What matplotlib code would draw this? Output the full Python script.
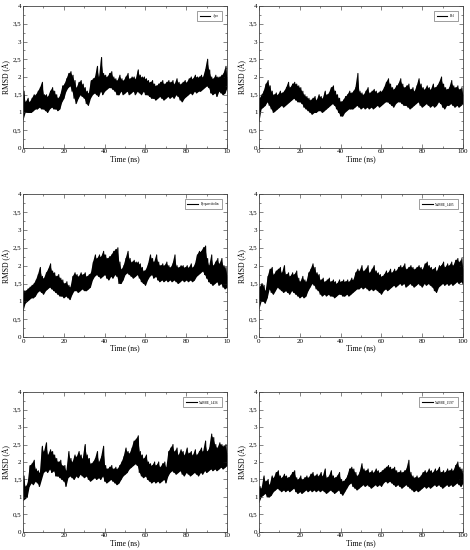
import numpy as np
import matplotlib
matplotlib.use("Agg")
import matplotlib.pyplot as plt

plt.rcParams['font.family'] = ['Liberation Serif', 'DejaVu Serif']

# RMSD traces: lower and upper edge of the noisy band, one pair per ns
time_ns = list(range(0, 101))

names = ["Apo", "Bcl", "Pyrparvifolin", "NuBBE_1405", "NuBBE_1436", "NuBBE_1597"]

apo_lo = [0.8, 1.0, 1.0, 1.0, 1.0, 1.05, 1.1, 1.1, 1.15, 1.1, 1.1, 1.05, 1.0, 1.1, 1.15, 1.1, 1.1, 1.05, 1.1, 1.3,
          1.4, 1.6, 1.7, 1.75, 1.6, 1.4, 1.25, 1.4, 1.5, 1.45, 1.4, 1.25, 1.2, 1.4, 1.5, 1.55, 1.5, 1.45, 1.6, 1.5,
          1.6, 1.65, 1.7, 1.7, 1.65, 1.6, 1.5, 1.5, 1.6, 1.5, 1.55, 1.6, 1.5, 1.55, 1.6, 1.5, 1.6, 1.55, 1.5, 1.6,
          1.5, 1.5, 1.45, 1.4, 1.4, 1.35, 1.4, 1.45, 1.4, 1.35, 1.4, 1.45, 1.4, 1.45, 1.4, 1.5, 1.45, 1.35, 1.3, 1.4,
          1.45, 1.5, 1.55, 1.5, 1.6, 1.55, 1.6, 1.6, 1.65, 1.7, 1.75, 1.7, 1.55, 1.5, 1.55, 1.45, 1.6, 1.55, 1.5, 1.55,
          1.7]
apo_hi = [1.6, 1.3, 1.4, 1.3, 1.4, 1.5, 1.5, 1.6, 1.7, 1.85, 1.5, 1.5, 1.45, 1.6, 1.7, 1.6, 1.5, 1.4, 1.5, 1.75,
          1.8, 1.95, 2.1, 2.15, 2.05, 1.9, 1.7, 1.85, 1.9, 1.8, 1.7, 1.6, 1.55, 1.9, 1.95, 2.0, 2.3, 2.0, 2.55, 2.1,
          2.05, 2.0, 2.1, 2.15, 2.0, 1.95, 1.9, 2.05, 1.95, 1.9, 2.0, 2.1, 1.95, 2.0, 2.0, 1.95, 2.2, 2.05, 2.0, 2.0,
          1.95, 1.9, 1.85, 1.9, 1.8, 1.75, 1.8, 1.85, 1.9, 1.8, 1.85, 1.9, 1.85, 1.9, 1.8, 1.95, 1.85, 1.8, 1.85, 1.9,
          1.85, 1.95, 2.0, 1.95, 2.05, 2.0, 2.0, 2.05, 2.0, 2.2, 2.5, 2.2, 2.0, 1.95, 2.05, 2.0, 2.0, 2.05, 2.1, 2.3,
          1.95]

bcl_lo = [0.75, 1.1, 1.15, 1.2, 1.3, 1.2, 1.1, 1.0, 1.05, 1.1, 1.15, 1.2, 1.15, 1.2, 1.25, 1.3, 1.35, 1.4, 1.35, 1.3,
          1.3, 1.25, 1.15, 1.1, 1.05, 1.0, 0.95, 1.0, 1.0, 1.05, 1.05, 1.0, 1.05, 1.1, 1.15, 1.2, 1.25, 1.2, 1.1, 1.0,
          0.9, 0.9, 1.0, 1.05, 1.1, 1.1, 1.1, 1.15, 1.2, 1.15, 1.1, 1.15, 1.1, 1.15, 1.1, 1.15, 1.1, 1.15, 1.2, 1.15,
          1.2, 1.25, 1.3, 1.3, 1.25, 1.2, 1.15, 1.25, 1.3, 1.3, 1.25, 1.2, 1.2, 1.15, 1.1, 1.15, 1.2, 1.25, 1.3, 1.2,
          1.15, 1.2, 1.25, 1.2, 1.15, 1.2, 1.15, 1.2, 1.3, 1.25, 1.15, 1.1, 1.2, 1.2, 1.25, 1.2, 1.15, 1.2, 1.15, 1.2,
          1.25]
bcl_hi = [1.4, 1.5, 1.6, 1.8, 1.9, 1.75, 1.6, 1.5, 1.55, 1.5, 1.6, 1.55, 1.6, 1.7, 1.85, 1.7, 1.8, 1.85, 1.8, 1.75,
          1.7, 1.6, 1.5, 1.45, 1.4, 1.35, 1.4, 1.45, 1.35, 1.5, 1.45, 1.4, 1.6, 1.5, 1.55, 1.7, 1.75, 1.6, 1.5, 1.4,
          1.3, 1.35, 1.45, 1.5, 1.6, 1.55, 1.6, 1.7, 2.1, 1.6, 1.55, 1.5, 1.6, 1.7, 1.55, 1.6, 1.65, 1.6, 1.55, 1.6,
          1.6, 1.7, 1.85, 1.95, 1.8, 1.7, 1.65, 1.75, 1.8, 1.95, 1.8, 1.7, 1.75, 1.8, 1.65, 1.7, 1.6, 1.75, 1.95, 1.8,
          1.7, 1.65, 1.75, 1.7, 1.65, 1.8, 1.7, 1.75, 1.85, 2.0, 1.8, 1.7, 1.65, 1.7, 1.9, 1.75, 1.7, 1.75, 1.65, 1.7,
          1.5]

pyr_lo = [0.75, 0.95, 1.0, 1.05, 1.1, 1.1, 1.15, 1.25, 1.3, 1.25, 1.2, 1.3, 1.35, 1.4, 1.35, 1.3, 1.25, 1.2, 1.15, 1.15,
          1.1, 1.15, 1.1, 1.05, 1.2, 1.3, 1.3, 1.25, 1.3, 1.35, 1.3, 1.3, 1.35, 1.4, 1.6, 1.7, 1.75, 1.7, 1.65, 1.7,
          1.75, 1.65, 1.6, 1.7, 1.65, 1.75, 1.7, 1.5, 1.5, 1.6, 1.75, 1.8, 1.75, 1.7, 1.65, 1.7, 1.75, 1.65, 1.55, 1.5,
          1.45, 1.6, 1.7, 1.75, 1.65, 1.7, 1.6, 1.55, 1.6, 1.55, 1.6, 1.55, 1.6, 1.55, 1.6, 1.55, 1.5, 1.55, 1.6, 1.55,
          1.6, 1.55, 1.6, 1.55, 1.6, 1.7, 1.75, 1.8, 1.85, 1.75, 1.65, 1.55, 1.5, 1.45, 1.5, 1.55, 1.45, 1.5, 1.4, 1.35,
          1.4]
pyr_hi = [1.3, 1.3, 1.35, 1.4, 1.45, 1.5, 1.6, 1.75, 1.95, 1.7, 1.65, 1.8, 1.9, 2.05, 1.85, 1.8, 1.7, 1.75, 1.65, 1.6,
          1.5, 1.55, 1.45, 1.4, 1.7, 1.8, 1.75, 1.7, 1.8, 1.75, 1.8, 1.7, 1.75, 1.8, 2.1, 2.3, 2.2, 2.3, 2.25, 2.4,
          2.3, 2.2, 2.25, 2.3, 2.4, 2.45, 2.5, 2.1, 1.9, 2.0, 2.2, 2.4, 2.2, 2.1, 2.15, 2.1, 2.1, 2.05, 1.95, 1.85,
          1.9, 2.05, 2.3, 2.2, 2.1, 2.3, 2.1, 2.0, 2.05, 2.0, 2.1, 2.0, 1.95, 2.05, 2.3, 2.0, 1.95, 2.0, 2.0, 1.95,
          2.0, 1.95, 2.05, 1.95, 2.05, 2.3, 2.4, 2.4, 2.5, 2.55, 2.2, 2.0, 2.3, 2.0, 2.1, 2.2, 2.05, 2.2, 2.0, 1.95,
          1.7]

n1405_lo = [0.8, 1.0, 1.0, 0.95, 1.1, 1.35, 1.25, 1.2, 1.3, 1.4, 1.35, 1.3, 1.25, 1.3, 1.25, 1.2, 1.3, 1.25, 1.2, 1.15,
            1.1, 1.15, 1.1, 1.15, 1.3, 1.4, 1.5, 1.45, 1.35, 1.3, 1.2, 1.15, 1.2, 1.15, 1.2, 1.15, 1.15, 1.1, 1.15, 1.2,
            1.2, 1.15, 1.15, 1.2, 1.15, 1.2, 1.25, 1.3, 1.35, 1.35, 1.4, 1.35, 1.4, 1.35, 1.3, 1.35, 1.3, 1.35, 1.3, 1.25,
            1.2, 1.3, 1.35, 1.3, 1.35, 1.4, 1.45, 1.4, 1.45, 1.5, 1.45, 1.5, 1.4, 1.45, 1.5, 1.45, 1.4, 1.45, 1.5, 1.45,
            1.4, 1.5, 1.45, 1.5, 1.45, 1.4, 1.3, 1.25, 1.4, 1.45, 1.5, 1.45, 1.5, 1.45, 1.5, 1.45, 1.5, 1.55, 1.5, 1.55,
            1.5]
n1405_hi = [1.4, 1.5, 1.45, 1.3, 1.7, 1.9, 1.95, 1.75, 1.85, 1.9, 1.95, 1.8, 2.0, 1.75, 1.8, 1.7, 1.8, 1.75, 1.85, 1.65,
            1.55, 1.7, 1.6, 1.55, 1.8, 1.9, 2.05, 1.95, 1.8, 1.75, 1.6, 1.65, 1.55, 1.6, 1.65, 1.55, 1.6, 1.55, 1.5, 1.6,
            1.55, 1.6, 1.55, 1.6, 1.55, 1.65, 1.6, 1.8, 1.9, 1.85, 2.0, 1.85, 1.9, 2.0, 1.8, 1.9, 2.0, 1.85, 1.8, 1.75,
            1.7, 1.75, 1.85, 1.8, 1.9, 1.8, 1.9, 1.85, 1.95, 2.0, 1.95, 2.05, 1.9, 1.95, 2.0, 1.95, 1.9, 1.95, 2.0, 1.95,
            1.9, 2.05, 2.1, 2.0, 1.95, 1.9, 1.95, 1.85, 2.0, 2.0, 2.1, 1.95, 2.05, 2.0, 2.1, 2.0, 2.15, 2.2, 2.1, 2.2,
            1.9]

n1436_lo = [0.9, 0.95, 1.0, 1.3, 1.4, 1.35, 1.45, 1.4, 1.3, 1.5, 1.7, 1.75, 1.7, 1.8, 1.7, 1.75, 1.6, 1.6, 1.55, 1.5,
            1.45, 1.3, 1.55, 1.6, 1.55, 1.5, 1.6, 1.55, 1.65, 1.6, 1.55, 1.6, 1.5, 1.45, 1.5, 1.55, 1.5, 1.55, 1.5, 1.6,
            1.45, 1.4, 1.45, 1.5, 1.45, 1.4, 1.35, 1.4, 1.5, 1.6, 1.65, 1.7, 1.8, 1.85, 1.9, 1.95, 1.9, 1.7, 1.6, 1.55,
            1.6, 1.5, 1.45, 1.4, 1.45, 1.4, 1.45, 1.4, 1.45, 1.5, 1.4, 1.6, 1.7, 1.75, 1.7, 1.65, 1.7, 1.75, 1.65, 1.6,
            1.7, 1.65, 1.6, 1.65, 1.7, 1.65, 1.6, 1.7, 1.65, 1.75, 1.7, 1.75, 1.8, 1.75, 1.8, 1.75, 1.8, 1.85, 1.8, 1.85,
            1.9]
n1436_hi = [1.6, 1.3, 1.4, 1.9, 1.95, 2.05, 1.8, 1.75, 1.7, 2.45, 2.3, 2.55, 2.2, 2.35, 2.3, 2.2, 2.1, 2.0, 2.05, 1.9,
            1.9, 1.75, 2.3, 2.1, 2.0, 2.2, 2.15, 2.3, 2.2, 2.1, 2.5, 2.2, 2.1, 1.95, 2.0, 2.1, 2.3, 2.0, 2.15, 2.45,
            1.9, 1.8, 1.85, 1.9, 1.8, 1.85, 1.8, 1.9, 2.0, 2.15, 2.4, 2.3, 2.25, 2.4, 2.6, 2.65, 2.75, 2.3, 2.2, 2.1,
            2.2, 2.0, 1.95, 1.9, 2.0, 1.9, 2.0, 1.85, 1.95, 2.0, 1.85, 2.3, 2.4, 2.5, 2.3, 2.4, 2.2, 2.35, 2.3, 2.2,
            2.4, 2.25, 2.3, 2.2, 2.35, 2.2, 2.3, 2.4, 2.3, 2.6, 2.3, 2.4, 2.8, 2.7, 2.5, 2.4, 2.55, 2.5, 2.45, 2.5,
            2.2]

n1597_lo = [0.85, 1.0, 1.05, 1.1, 1.0, 1.0, 1.05, 1.15, 1.2, 1.25, 1.2, 1.15, 1.2, 1.15, 1.2, 1.15, 1.2, 1.25, 1.15, 1.1,
            1.15, 1.1, 1.15, 1.2, 1.15, 1.2, 1.15, 1.2, 1.15, 1.2, 1.15, 1.2, 1.15, 1.1, 1.15, 1.2, 1.15, 1.1, 1.15, 1.2,
            1.1, 1.05, 1.15, 1.25, 1.35, 1.4, 1.3, 1.25, 1.2, 1.25, 1.3, 1.35, 1.3, 1.35, 1.3, 1.25, 1.3, 1.35, 1.3, 1.35,
            1.3, 1.4, 1.45, 1.4, 1.45, 1.4, 1.35, 1.3, 1.35, 1.3, 1.25, 1.3, 1.35, 1.3, 1.25, 1.2, 1.15, 1.2, 1.15, 1.2,
            1.25, 1.3, 1.25, 1.3, 1.25, 1.3, 1.35, 1.3, 1.35, 1.3, 1.25, 1.3, 1.35, 1.3, 1.35, 1.3, 1.35, 1.4, 1.35, 1.3,
            1.4]
n1597_hi = [1.3, 1.25, 1.6, 1.45, 1.5, 1.35, 1.6, 1.55, 1.7, 1.75, 1.6, 1.55, 1.65, 1.6, 1.55, 1.6, 1.7, 1.75, 1.55, 1.5,
            1.6, 1.5, 1.55, 1.6, 1.55, 1.65, 1.7, 1.6, 1.65, 1.6, 1.7, 1.6, 1.8, 1.55, 1.6, 1.75, 1.6, 1.55, 1.6, 1.7,
            1.5, 1.45, 1.5, 1.6, 1.8, 1.85, 1.8, 1.7, 1.6, 1.7, 1.95, 1.8, 1.75, 1.8, 1.7, 1.75, 1.7, 1.8, 1.75, 1.7,
            1.75, 1.8, 1.85, 1.9, 1.85, 1.8, 1.85, 1.75, 1.7, 1.75, 1.7, 1.75, 1.8, 2.05, 1.7, 1.6, 1.55, 1.6, 1.55, 1.6,
            1.7, 1.75, 1.7, 1.8, 1.75, 1.7, 1.8, 1.75, 1.85, 1.7, 1.75, 1.7, 1.8, 1.75, 1.8, 1.75, 1.9, 2.0, 1.85, 1.8,
            1.65]

series_lo = [apo_lo, bcl_lo, pyr_lo, n1405_lo, n1436_lo, n1597_lo]
series_hi = [apo_hi, bcl_hi, pyr_hi, n1405_hi, n1436_hi, n1597_hi]

y_ticks = [0, 0.5, 1, 1.5, 2, 2.5, 3, 3.5, 4]
y_tick_labels = ["0", "0,5", "1", "1,5", "2", "2,5", "3", "3,5", "4"]
x_ticks = [0, 20, 40, 60, 80, 100]
x_labels_left = ["0", "20", "40", "60", "80", "10"]   # last label is cut off in the left column
x_labels_right = ["0", "20", "40", "60", "80", "100"]

fig = plt.figure(figsize=(4.7, 5.5), dpi=100)

# axes boxes in figure fractions (left, bottom, width, height)
col_x = [0.049, 0.551]
row_y = [(0.731, 0.258), (0.387, 0.260), (0.033, 0.254)]

for i in range(6):
    r, c = divmod(i, 2)
    ax = fig.add_axes([col_x[c], row_y[r][0], 0.434, row_y[r][1]])

    t = np.array(time_ns, dtype=float)
    # solid core of the band, then a zig-zag between the low and high edges for the spiky look
    ax.fill_between(t, series_lo[i], series_hi[i], color='black', lw=0)
    tt = np.empty(2 * len(t))
    yy = np.empty(2 * len(t))
    tt[0::2] = t
    tt[1::2] = t + 0.5
    yy[0::2] = series_lo[i]
    yy[1::2] = series_hi[i]
    keep = tt <= 100
    ax.plot(tt[keep], yy[keep], color='black', lw=0.8, label=names[i])

    ax.set_xlim(0, 100)
    ax.set_ylim(0, 4)
    ax.set_xticks(x_ticks)
    ax.set_xticklabels(x_labels_left if c == 0 else x_labels_right)
    ax.set_yticks(y_ticks)
    ax.set_yticklabels(y_tick_labels)
    ax.set_xticks(np.arange(10, 100, 20), minor=True)
    ax.set_yticks(np.arange(0.25, 4, 0.5), minor=True)
    ax.tick_params(which='both', direction='in', top=True, right=True,
                   labelsize=5, width=0.5, color='#555555', pad=1)
    ax.tick_params(which='major', length=3)
    ax.tick_params(which='minor', length=1.5)
    for s in ax.spines.values():
        s.set_linewidth(0.6)
        s.set_color('#444444')

    ax.set_xlabel("Time (ns)", fontsize=5.5, labelpad=0.5)
    ax.set_ylabel("RMSD (Å)", fontsize=5.5, labelpad=1)

    leg = ax.legend(loc='upper right', fontsize=2.5, frameon=True, fancybox=False,
                    handlelength=3, borderpad=0.8, borderaxespad=1.5)
    leg.get_frame().set_edgecolor('#555555')
    leg.get_frame().set_linewidth(0.5)

fig.savefig("out.png", dpi=100)
